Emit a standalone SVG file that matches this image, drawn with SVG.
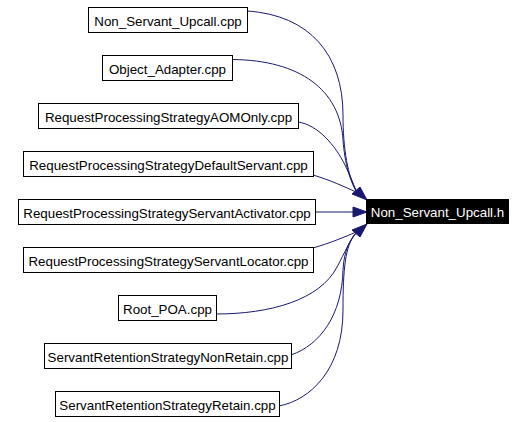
<svg xmlns="http://www.w3.org/2000/svg" width="526" height="422" viewBox="0 0 526 422">
<style>
.node rect{fill:#ffffff;stroke:#000000;stroke-width:1}
.node text{font-family:"Liberation Sans",Arial,sans-serif;font-size:13.33px;text-anchor:middle;fill:#000000}
#target rect{fill:#000000;stroke:#000000}
#target text{fill:#ffffff}
.edge path{fill:none;stroke:#191970;stroke-width:1}
.edge polygon{fill:#191970;stroke:#191970;stroke-width:1}
</style>
<rect width="526" height="422" fill="#ffffff"/>
<g id="connectors">
<g class="edge"><path d="M247,11 C310,15 343,55 343,115 C343,150 348,176 356,190"/></g>
<g class="edge"><path d="M232,59.5 C300,60 340,90 343,140 C345,165 350,180 356,191"/></g>
<g class="edge"><path d="M298,122 C318,125 335,145 345,165 C350,175 353,183 356,191"/></g>
<g class="edge"><path d="M313,175 C330,180 345,187 356,192"/></g>
<g class="edge"><path d="M316,212 L354,212"/></g>
<g class="edge"><path d="M313,248 C330,243 345,237 356,232"/></g>
<g class="edge"><path d="M216,314 C270,314 320,300 337,267 C345,252 350,240 356,233"/></g>
<g class="edge"><path d="M291,355 C320,345 342,315 343,270 C344,250 350,240 356,233"/></g>
<g class="edge"><path d="M279,406 C310,400 343,370 343,310 C343,270 345,245 356,233"/></g>
<g class="edge"><polygon points="352,194 360,187 367,200"/></g>
<g class="edge"><polygon points="353,207 367,212 353,217"/></g>
<g class="edge"><polygon points="352,230 360,237 367,224"/></g>
</g>
<g id="n_non_servant_upcall_cpp" class="node"><rect x="88.5" y="7.5" width="159" height="25"/><text x="168" y="25.5">Non_Servant_Upcall.cpp</text></g>
<g id="n_object_adapter_cpp" class="node"><rect x="102.5" y="55.5" width="130" height="25"/><text x="167.5" y="73.5">Object_Adapter.cpp</text></g>
<g id="n_rps_aomonly_cpp" class="node"><rect x="38.5" y="103.5" width="260" height="25"/><text x="168.5" y="121.5">RequestProcessingStrategyAOMOnly.cpp</text></g>
<g id="n_rps_defaultservant_cpp" class="node"><rect x="23.5" y="151.5" width="290" height="25"/><text x="168.5" y="169.5">RequestProcessingStrategyDefaultServant.cpp</text></g>
<g id="n_rps_servantactivator_cpp" class="node"><rect x="18.5" y="199.5" width="297" height="25"/><text x="167" y="217.5">RequestProcessingStrategyServantActivator.cpp</text></g>
<g id="n_rps_servantlocator_cpp" class="node"><rect x="23.5" y="247.5" width="290" height="25"/><text x="168.5" y="265.5">RequestProcessingStrategyServantLocator.cpp</text></g>
<g id="n_root_poa_cpp" class="node"><rect x="118.5" y="295.5" width="98" height="25"/><text x="167.5" y="313.5">Root_POA.cpp</text></g>
<g id="n_srs_nonretain_cpp" class="node"><rect x="44.5" y="343.5" width="247" height="25"/><text x="168" y="361.5">ServantRetentionStrategyNonRetain.cpp</text></g>
<g id="n_srs_retain_cpp" class="node"><rect x="55.5" y="391.5" width="224" height="25"/><text x="167.5" y="409.5">ServantRetentionStrategyRetain.cpp</text></g>
<g id="target" class="node"><rect x="366.5" y="199.5" width="142" height="24"/><text x="437.5" y="217">Non_Servant_Upcall.h</text></g>
</svg>
